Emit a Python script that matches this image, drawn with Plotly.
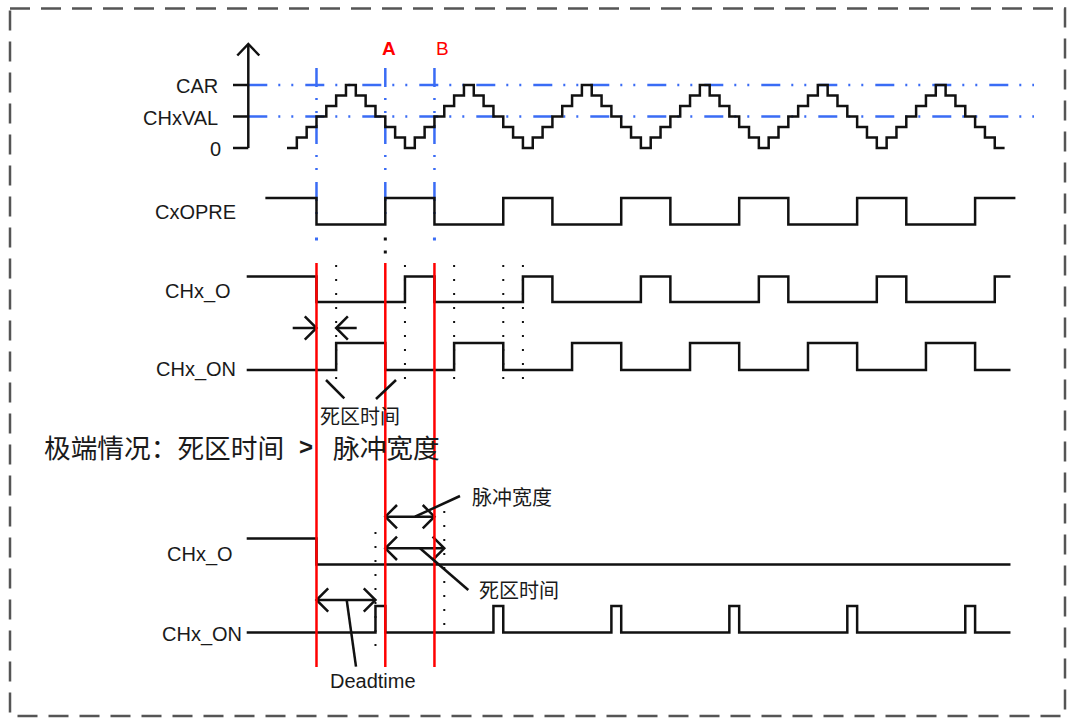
import plotly.graph_objects as go

# ======================= DATA =======================
# Counter (staircase) value at each time step (one value per step)
counter_levels = [0, 1, 2, 3, 4, 5, 6, 5, 4, 3, 2, 1,
                  0, 1, 2, 3, 4, 5, 6, 5, 4, 3, 2, 1,
                  0, 1, 2, 3, 4, 5, 6, 5, 4, 3, 2, 1,
                  0, 1, 2, 3, 4, 5, 6, 5, 4, 3, 2, 1,
                  0, 1, 2, 3, 4, 5, 6, 5, 4, 3, 2, 1,
                  0, 1, 2, 3, 4, 5, 6, 5, 4, 3, 2, 1,
                  0]
level_tick_values = [0, 3, 6]
level_tick_labels = ["0", "CHxVAL", "CAR"]

# Digital waveforms: transition times (in counter steps) and level after each transition
cxopre_t = [-2.2, 3, 10, 15, 22, 27, 34, 39, 46, 51, 58, 63, 70, 74.1]
cxopre_v = [1, 0, 1, 0, 1, 0, 1, 0, 1, 0, 1, 0, 1, 1]
chxo_t = [-4.1, 3, 12, 15, 24, 27, 36, 39, 48, 51, 60, 63, 72, 73.6]
chxo_v = [1, 0, 1, 0, 1, 0, 1, 0, 1, 0, 1, 0, 1, 1]
chxon_t = [-4.1, 5, 10, 17, 22, 29, 34, 41, 46, 53, 58, 65, 70, 73.6]
chxon_v = [0, 1, 0, 1, 0, 1, 0, 1, 0, 1, 0, 1, 0, 0]
ext_chxo_t = [-4.1, 3, 73.6]
ext_chxo_v = [1, 0, 0]
ext_chxon_t = [-4.1, 9, 10, 21, 22, 33, 34, 45, 46, 57, 58, 69, 70, 73.6]
ext_chxon_v = [0, 1, 0, 1, 0, 1, 0, 1, 0, 1, 0, 1, 0, 0]

event_times = [3, 10, 15]           # red marker lines (compare events)
event_labels = ["A", "B"]           # at times 10 and 15
dotted_times_normal = [5, 12, 17, 22, 24]
deadtime_normal = (3, 5)
pulse_width_span = (10, 15)
deadtime_ext_span = (10, 16)
deadtime_ext_first = (3, 9)

# ======================= LAYOUT CONSTANTS =======================
W, H = 1068, 722
X0_PX, STEP_PX = 287.0, 9.83           # pixel of t=0 and width of one step
BLACK = "#111111"
BLUE = "#3a6cf5"
RED = "#ff0000"
LW = 2.5
LATIN = "Liberation Sans, Arial, sans-serif"
CJK = "Noto Sans CJK SC, sans-serif"

def tpx(px):
    return (px - X0_PX) / STEP_PX

STAIR_BASE, STAIR_STEP = 148.0, 10.5
rows = {
    "cxopre": (224.5, 26.5),
    "chxo": (302.0, 25.5),
    "chxon": (370.0, 27.0),
    "ext_chxo": (564.5, 26.0),
    "ext_chxon": (632.5, 26.5),
}

def row_y(name, vals):
    base, amp = rows[name]
    return [base - v * amp for v in vals]

def stair_y(vals):
    return [STAIR_BASE - v * STAIR_STEP for v in vals]

fig = go.Figure()

def add_line(x, y, color=BLACK, width=LW, dash="solid", shape="linear"):
    fig.add_trace(go.Scatter(x=x, y=y, mode="lines",
                             line=dict(color=color, width=width, dash=dash, shape=shape),
                             hoverinfo="skip", showlegend=False))

def add_dots(x, y, color=BLACK, size=3):
    fig.add_trace(go.Scatter(x=x, y=y, mode="markers",
                             marker=dict(color=color, size=size, symbol="square"),
                             hoverinfo="skip", showlegend=False))

ARM = 11.7 / STEP_PX
ARM_Y = 11.7

def arrow_head(t, y, direction):
    add_line([t - direction * ARM, t, t - direction * ARM], [y - ARM_Y, y, y + ARM_Y])

DASHDOT = "19px,11px,2px,11px,2px,12px"

# ---- blue reference lines ----
for lv in [level_tick_values[1], level_tick_values[2]]:
    yy = stair_y([lv])[0]
    add_line([tpx(248.3), tpx(1034)], [yy, yy], color=BLUE, dash=DASHDOT)
for t in event_times:
    add_line([t, t], [68, 214], color=BLUE, dash=DASHDOT)
add_dots([event_times[0], event_times[2]], [239, 239], color=BLUE, size=3)
add_dots([event_times[1], event_times[1]], [239, 252], color=BLACK, size=3)

# ---- counter axis ----
ax_t = tpx(248.3)
add_line([ax_t, ax_t], [STAIR_BASE, 44])
add_line([tpx(237.3), ax_t, tpx(259.3)], [55.5, 44, 55.5])
for lv in level_tick_values:
    yy = stair_y([lv])[0]
    add_line([tpx(233), ax_t], [yy, yy])

# ---- staircase ----
sx = list(range(len(counter_levels))) + [len(counter_levels)]
sy = stair_y(counter_levels + [counter_levels[-1]])
add_line(sx, sy, shape="hv")

# ---- waveforms ----
add_line(cxopre_t, row_y("cxopre", cxopre_v), shape="hv")
add_line(chxo_t, row_y("chxo", chxo_v), shape="hv")
add_line(chxon_t, row_y("chxon", chxon_v), shape="hv")
add_line(ext_chxo_t, row_y("ext_chxo", ext_chxo_v), shape="hv")
add_line(ext_chxon_t, row_y("ext_chxon", ext_chxon_v), shape="hv")

# ---- dotted guides ----
DOT = "2px,12px"
for t in dotted_times_normal:
    add_line([t, t], [265, 381], dash=DOT, width=2)
add_line([deadtime_ext_first[1]] * 2, [532, 648], dash=DOT, width=2)
add_line([deadtime_ext_span[1]] * 2, [511, 627], dash=DOT, width=2)

# ---- arrows ----
y1 = 328
add_line([tpx(292.7), deadtime_normal[0]], [y1, y1])
arrow_head(deadtime_normal[0], y1, +1)
add_line([tpx(356.7), deadtime_normal[1]], [y1, y1])
arrow_head(deadtime_normal[1], y1, -1)

for (a, b), yy in [(pulse_width_span, 516.7), (deadtime_ext_span, 548.3), (deadtime_ext_first, 600)]:
    add_line([a, b], [yy, yy])
    arrow_head(a, yy, -1)
    arrow_head(b, yy, +1)

# ---- red event lines (on top) ----
for t in event_times:
    add_line([t, t], [263, 667], color=RED, width=LW)

# ---- leader lines ----
leaders = [((326, 380), (344.3, 398.3)),
           ((396, 380), (376, 399)),
           ((415, 516.7), (460, 496)),
           ((420, 548.3), (468.3, 590)),
           ((346.7, 600), (356, 666.7))]
shapes = []
for (xa, ya), (xb, yb) in leaders:
    shapes.append(dict(type="line", xref="paper", yref="y", x0=xa / W, x1=xb / W,
                       y0=ya, y1=yb, line=dict(color=BLACK, width=LW)))
shapes.append(dict(type="rect", xref="paper", yref="y", x0=10 / W, x1=1065 / W,
                   y0=8.5, y1=716, line=dict(color="#555555", width=2.5, dash="20px,11px"),
                   fillcolor="rgba(0,0,0,0)"))

# ---- text ----
ann = []

def text(s, x, y, size=20, family=LATIN, anchor="right", color="#1a1a1a", bold=False):
    ann.append(dict(text=f"<b>{s}</b>" if bold else s, x=x / W, y=y, xref="paper", yref="y",
                    xanchor=anchor, yanchor="middle", showarrow=False,
                    font=dict(size=size, family=family, color=color)))

for lv, lab in zip(level_tick_values, level_tick_labels):
    yy = stair_y([lv])[0]
    text(lab, 223 if lab == "0" else 220, yy + 1)
text("CxOPRE", 238, 212)
text("CHx_O", 233, 291)
text("CHx_ON", 238, 369)
text("CHx_O", 235, 554)
text("CHx_ON", 244, 634)
text(event_labels[0], 389, 48, size=19, color=RED, anchor="center", bold=True)
text(event_labels[1], 442.5, 48, size=19, color=RED, anchor="center")
text("死区时间", 359.5, 415, size=20, family=CJK, anchor="center")
text("极端情况：死区时间", 42, 446, size=26.7, family=CJK, anchor="left")
text("&gt;", 305.5, 446, size=24, family=LATIN, anchor="center", bold=True)
text("脉冲宽度", 331, 446, size=26.7, family=CJK, anchor="left")
text("脉冲宽度", 511.5, 496, size=20, family=CJK, anchor="center")
text("死区时间", 519, 589, size=20, family=CJK, anchor="center")
text("Deadtime", 372.5, 681, size=20, anchor="center")

fig.update_layout(
    width=W, height=H, autosize=False,
    margin=dict(l=0, r=0, t=0, b=0, pad=0),
    paper_bgcolor="white", plot_bgcolor="white",
    xaxis=dict(range=[tpx(0), tpx(W)], visible=False, fixedrange=True),
    yaxis=dict(range=[H, 0], visible=False, fixedrange=True),
    shapes=shapes, annotations=ann, showlegend=False,
)
fig.write_html("out.html", config={"displayModeBar": False},
               post_script="document.body.style.margin='0';document.body.style.overflow='hidden';")
